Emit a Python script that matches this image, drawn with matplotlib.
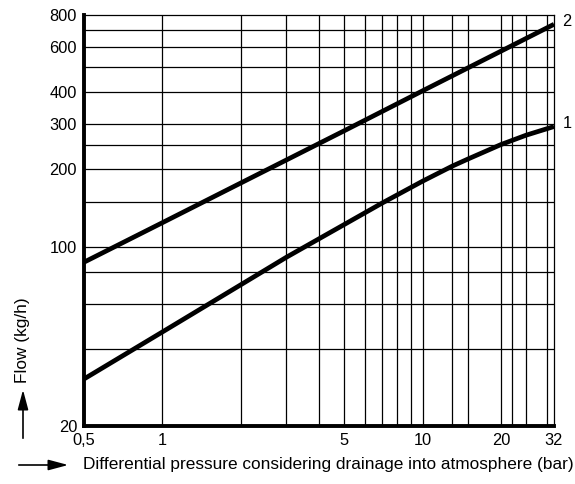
import matplotlib
matplotlib.use("Agg")
import matplotlib.pyplot as plt
from matplotlib.patches import FancyArrowPatch
from matplotlib.ticker import FixedLocator, NullFormatter, FixedFormatter

plt.rcParams['font.family'] = ['Liberation Sans', 'DejaVu Sans']

# curve 1 (lower)
x_curve1 = [0.5, 1, 2, 3, 5, 7, 10, 13, 15, 20, 25, 32]
flow_curve1 = [30.5, 46.5, 71, 91, 122, 148, 180, 206, 220, 250, 272, 294]

# curve 2 (upper)
x_curve2 = [0.5, 1, 2, 5, 10, 20, 32]
flow_curve2 = [87, 124, 177, 283, 405, 578, 736]

x_ticks = [0.5, 1, 5, 10, 20, 32]
x_tick_labels = ['0,5', '1', '5', '10', '20', '32']
x_grid = [1, 2, 3, 4, 5, 6, 7, 8, 9, 10, 13, 15, 20, 22, 25, 30]

y_ticks = [20, 100, 200, 300, 400, 600, 800]
y_tick_labels = ['20', '100', '200', '300', '400', '600', '800']
y_grid = [40, 60, 80, 100, 150, 200, 250, 300, 400, 500, 600, 700]

fig = plt.figure(figsize=(5.75, 4.84), dpi=100)
ax = fig.add_axes([84 / 575, 1 - 426 / 484, 470 / 575, 411 / 484])

ax.set_xscale('log')
ax.set_yscale('log')
ax.set_xlim(0.5, 32)
ax.set_ylim(20, 800)

for xv in x_grid:
    ax.axvline(xv, color='black', lw=0.9, zorder=1)
for yv in y_grid:
    ax.axhline(yv, color='black', lw=0.9, zorder=1)

ax.plot(x_curve1, flow_curve1, color='black', lw=3.4, solid_capstyle='butt', zorder=3)
ax.plot(x_curve2, flow_curve2, color='black', lw=3.4, solid_capstyle='butt', zorder=3)

ax.xaxis.set_major_locator(FixedLocator(x_ticks))
ax.xaxis.set_major_formatter(FixedFormatter(x_tick_labels))
ax.xaxis.set_minor_locator(FixedLocator([]))
ax.xaxis.set_minor_formatter(NullFormatter())
ax.yaxis.set_major_locator(FixedLocator(y_ticks))
ax.yaxis.set_major_formatter(FixedFormatter(y_tick_labels))
ax.yaxis.set_minor_locator(FixedLocator([]))
ax.yaxis.set_minor_formatter(NullFormatter())
ax.tick_params(length=0, labelsize=11.8, pad=5)

for side in ['left', 'bottom']:
    ax.spines[side].set_linewidth(2.8)
for side in ['top', 'right']:
    ax.spines[side].set_linewidth(0.9)

# curve numbers at the right end
ax.annotate('2', xy=(1, flow_curve2[-1]), xycoords=('axes fraction', 'data'), xytext=(6, 2),
            textcoords='offset points', va='center', ha='left', fontsize=11.8)
ax.annotate('1', xy=(1, flow_curve1[-1]), xycoords=('axes fraction', 'data'), xytext=(6, 2),
            textcoords='offset points', va='center', ha='left', fontsize=11.8)

fig.text(23 / 575, 1 - 340 / 484, 'Flow (kg/h)', rotation=90, ha='center', va='center', fontsize=12.4)
fig.text(83 / 575, 1 - 465 / 484, 'Differential pressure considering drainage into atmosphere (bar)',
         ha='left', va='center', fontsize=12.4)

arrow_style = '-|>,head_length=12,head_width=3.2'
fig.add_artist(FancyArrowPatch((23 / 575, 1 - 441 / 484), (23 / 575, 1 - 387 / 484),
                               transform=fig.transFigure, arrowstyle=arrow_style,
                               mutation_scale=1, color='black', lw=1.2))
fig.add_artist(FancyArrowPatch((16 / 575, 1 - 465 / 484), (71 / 575, 1 - 465 / 484),
                               transform=fig.transFigure, arrowstyle=arrow_style,
                               mutation_scale=1, color='black', lw=1.2))

fig.savefig('out.png', dpi=100)
